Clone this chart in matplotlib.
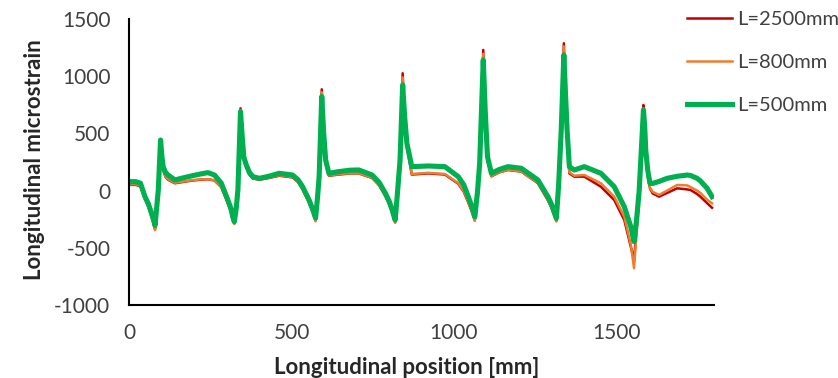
import matplotlib
matplotlib.use('Agg')
import matplotlib.pyplot as plt

# Longitudinal position [mm] (shared by all series), one line per strain cycle
x_pos = [0, 20, 35, 49, 60, 69, 76, 80,
         85, 90, 97, 101, 105, 112, 120, 141, 165, 192, 220, 243, 263, 284, 304, 314, 319, 324,
         330, 335, 343, 348, 353, 360, 370, 381, 401, 430, 462, 503, 520, 534, 554, 566, 574,
         580, 585, 593, 599, 605, 615, 646, 680, 707, 748, 770, 789, 800, 810, 815, 819,
         826, 834, 842, 848, 855, 870, 921, 972, 1013, 1030, 1044, 1055, 1064,
         1072, 1079, 1090, 1096, 1103, 1115, 1140, 1166, 1207, 1258, 1289, 1300, 1315,
         1322, 1330, 1338, 1343, 1348, 1355, 1370, 1401, 1452, 1493, 1524, 1544, 1554,
         1562, 1570, 1583, 1587, 1590, 1596, 1603, 1611, 1631, 1656, 1687, 1718, 1728, 1748, 1758, 1779, 1794]

strain_2500 = [50, 50, 38, -70, -140, -220, -290, -335,
               -170, -10, 430, 280, 180, 120, 95, 64, 75, 87, 95, 99, 88, 30, -110, -190, -250, -285,
               -160, -5, 719, 470, 280, 210, 140, 105, 95, 110, 130, 115, 75, 10, -105, -190, -260,
               -75, 100, 885, 480, 245, 130, 140, 150, 150, 110, 45, -50, -115, -195, -245, -275,
               -40, 240, 1025, 640, 390, 140, 150, 140, 60, -10, -105, -185, -260,
               -40, 210, 1229, 680, 270, 125, 160, 180, 166, 65, -85, -150, -265,
               30, 500, 1287, 840, 500, 150, 122, 122, 34, -82, -257, -490, -607,
               -330, -40, 748, 560, 340, 130, 20, -24, -53, -20, 20, 10, 5, -30, -53, -110, -150]

strain_800 = [55, 55, 42, -72, -145, -228, -300, -345,
              -175, -15, 425, 285, 185, 125, 100, 68, 78, 90, 98, 100, 90, 32, -108, -192, -255, -292,
              -165, -10, 705, 470, 282, 212, 142, 108, 98, 113, 133, 118, 78, 12, -108, -195, -268,
              -80, 95, 860, 485, 248, 133, 143, 152, 152, 112, 47, -50, -117, -198, -250, -282,
              -45, 235, 990, 640, 392, 145, 155, 145, 65, -5, -100, -185, -265,
              -45, 205, 1195, 680, 272, 128, 162, 182, 168, 68, -82, -150, -270,
              25, 495, 1260, 840, 500, 160, 130, 136, 64, -53, -228, -470, -679,
              -360, -45, 720, 550, 340, 135, 25, -10, -38, 0, 49, 45, 30, 0, -20, -80, -111]

strain_500 = [78, 78, 65, -53, -120, -198, -260, -305,
              -150, 5, 442, 300, 209, 160, 136, 93, 110, 128, 145, 157, 136, 64, -82, -160, -228, -272,
              -150, 5, 690, 480, 296, 230, 160, 122, 107, 125, 151, 136, 95, 34, -82, -170, -240,
              -60, 122, 822, 500, 267, 151, 166, 178, 180, 136, 70, -24, -90, -170, -220, -257,
              -20, 267, 923, 650, 413, 209, 215, 209, 122, 50, -53, -140, -228,
              -20, 238, 1141, 700, 296, 151, 185, 209, 195, 93, -53, -120, -242,
              50, 530, 1185, 850, 530, 209, 180, 209, 151, 34, -141, -315, -446,
              -250, 5, 705, 550, 355, 180, 64, 62, 80, 107, 125, 136, 132, 107, 85, 20, -53]

labels = ['L=2500mm', 'L=800mm', 'L=500mm']

plt.rcParams['font.family'] = ['Lato', 'DejaVu Sans']
plt.rcParams['axes.unicode_minus'] = False

fig = plt.figure(figsize=(8.38, 3.78), dpi=100)
ax = fig.add_axes([0.154, 0.193, 0.698, 0.757])

ax.plot(x_pos, strain_2500, color='#C00000', lw=1.8, label=labels[0], solid_joinstyle='round')
ax.plot(x_pos, strain_800, color='#ED7D31', lw=1.8, label=labels[1], solid_joinstyle='round')
ax.plot(x_pos, strain_500, color='#00B050', lw=3.7, label=labels[2], solid_joinstyle='round')

ax.set_xlim(0, 1800)
ax.set_ylim(-1000, 1500)
ax.set_xticks([0, 500, 1000, 1500])
ax.set_yticks([-1000, -500, 0, 500, 1000, 1500])

for side in ['top', 'right']:
    ax.spines[side].set_visible(False)
for side in ['left', 'bottom']:
    ax.spines[side].set_linewidth(1.5)
ax.tick_params(length=0, labelsize=15, colors='#404040')
ax.tick_params(axis='y', pad=13.5)
ax.tick_params(axis='x', pad=13)

ax.set_xlabel('Longitudinal position [mm]', fontsize=16, fontweight='bold', color='#262626')
ax.set_ylabel('Longitudinal microstrain', fontsize=16, fontweight='bold', color='#262626')
ax.xaxis.set_label_coords(0.474, -0.217)
ax.xaxis.label.set_va('center')
ax.yaxis.set_label_coords(-0.161, 0.507)
ax.yaxis.label.set_va('center')

fig.legend(loc='upper left', bbox_to_anchor=(0.798, 1.02), frameon=False, fontsize=14.5,
           handlelength=2.25, handletextpad=0.25, labelspacing=1.3, labelcolor='#404040')

fig.savefig('out.png', dpi=100)
